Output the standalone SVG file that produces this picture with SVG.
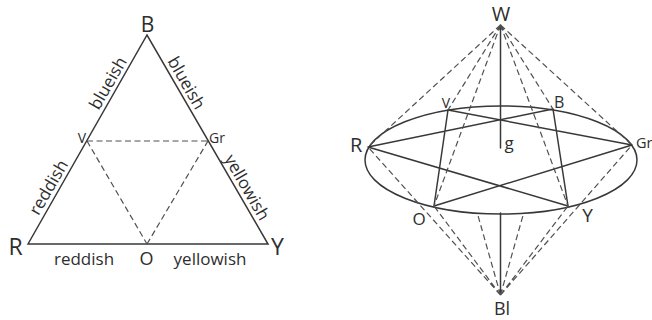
<svg xmlns="http://www.w3.org/2000/svg" width="652" height="320" viewBox="0 0 652 320">
<defs>
<style>
.ln{stroke:#383838;stroke-width:1.5;fill:none;stroke-linecap:round}
.ds{stroke:#505050;stroke-width:1.2;fill:none;stroke-dasharray:6 3.5}
.t{font-family:"Open Sans","Liberation Sans",sans-serif;fill:#2e2e2e}
.m{text-anchor:middle}
</style>
<marker id="ah" viewBox="0 0 10 10" refX="9" refY="5" markerWidth="5" markerHeight="5" orient="auto" markerUnits="userSpaceOnUse">
<path d="M0,0 L10,5 L0,10 Z" fill="#383838"/>
</marker>
</defs>
<rect width="652" height="320" fill="#fff"/>

<!-- Left triangle -->
<g id="triangle">
<path class="ln" d="M28,244 L147,35 L268,244 Z"/>
</g>
<g id="tri-dashes">
<path class="ds" d="M87,141 L208,141 M87,141 L147,244 M147,244 L208,141"/>
</g>
<g id="tri-edge-labels" class="t" font-size="17">
<text class="m" transform="translate(113,86) rotate(-60)">blueish</text>
<text class="m" transform="translate(53.6,190.3) rotate(-60)">reddish</text>
<text class="m" transform="translate(181.4,85.8) rotate(60)">blueish</text>
<text class="m" transform="translate(241.9,190.2) rotate(60)">yellowish</text>
<text class="m" x="84" y="265">reddish</text>
<text class="m" x="210" y="265">yellowish</text>
</g>
<g id="tB"><text class="t m" x="147.5" y="32" font-size="21">B</text></g>
<g id="tR"><text class="t" x="8.5" y="255" font-size="23">R</text></g>
<g id="tY"><text class="t" x="271" y="255" font-size="23">Y</text></g>
<g id="tV"><text class="t" x="86" y="143" font-size="14" text-anchor="end">V</text></g>
<g id="tGr"><text class="t" x="209" y="143" font-size="14">Gr</text></g>
<g id="tO"><text class="t m" x="146.5" y="265" font-size="18">O</text></g>

<!-- Right: double cone -->
<g id="ellipse">
<ellipse class="ln" cx="501" cy="160" rx="136" ry="54"/>
</g>
<g id="connectors">
<g id="star">
<path class="ln" d="M368,147 L553,109 M448,110 L632,145 M368,147 L568,206 M632,145 L434,206 M448,110 L434,206 M553,109 L568,206"/>
</g>
<g id="axis">
<line class="ln" x1="500.5" y1="148" x2="500.5" y2="25" marker-end="url(#ah)"/>
<line class="ln" x1="500.5" y1="213" x2="500.5" y2="294" marker-end="url(#ah)"/>
</g>
<g id="white-dashes">
<path class="ds" d="M500.5,25 L368,147 M500.5,25 L448,110 M500.5,25 L553,109 M500.5,25 L632,145 M500.5,25 L434,206 M500.5,25 L568,206"/>
</g>
<g id="black-dashes">
<path class="ds" d="M500.5,295 L368,147 M500.5,295 L434,206 M500.5,295 L477.3,213.1 M500.5,295 L523.8,212.6 M500.5,295 L568,206 M500.5,295 L632,145"/>
</g>
</g>
<g id="nW"><text class="t m" x="501" y="21" font-size="20">W</text></g>
<g id="nV"><text class="t m" x="446" y="108" font-size="14">V</text></g>
<g id="nB"><text class="t" x="554" y="108" font-size="16">B</text></g>
<g id="nR"><text class="t" x="350" y="152" font-size="20">R</text></g>
<g id="nGr"><text class="t" x="636" y="148" font-size="14.5">Gr</text></g>
<g id="ng"><text class="t" x="504.5" y="149" font-size="17">g</text></g>
<g id="nO"><text class="t m" x="419" y="225" font-size="17">O</text></g>
<g id="nY"><text class="t m" x="587.5" y="222" font-size="19">Y</text></g>
<g id="nBl"><text class="t m" x="502" y="315" font-size="18">Bl</text></g>
</svg>
